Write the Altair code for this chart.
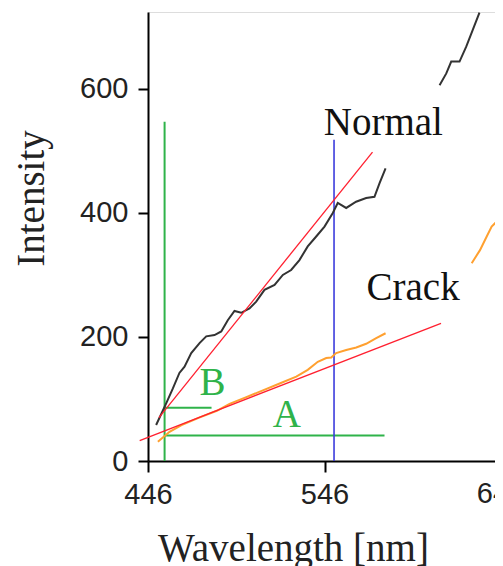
import altair as alt
import pandas as pd

# Normal spectrum (black), two visible pieces
normal1_x = [450.6, 456.3, 460.1, 463.8, 466.7, 470.5, 475.2, 479.0, 483.7, 487.5, 491.2, 495.0,
             498.8, 503.5, 507.3, 512.0, 517.7, 522.4, 527.1, 531.8, 536.5, 541.3, 546.0, 550.7,
             553.5, 558.3, 563.9, 569.6, 574.3, 577.2, 580.6]
normal1_y = [58, 93, 117, 142, 152, 174, 190, 201, 203, 209, 227, 242,
             239, 246, 257, 276, 284, 300, 308, 324, 346, 362, 378, 400,
             416, 408, 418, 424, 426, 448, 472]
normal2_x = [611.2, 615.0, 617.8, 622.5, 626.3, 630.0, 633.8]
normal2_y = [606, 625, 644, 644, 668, 695, 723]

# Crack spectrum (orange), two visible pieces
crack1_x = [451.6, 458.2, 465.0, 475.0, 485.0, 492.2, 501.7, 511.1, 520.6, 530.0, 536.5, 542.2,
            547.0, 549.8, 552.6, 558.3, 564.0, 569.6, 575.3, 580.6]
crack1_y = [31, 47, 58, 70, 81, 92, 103, 114, 125, 136, 147, 160,
            166, 167, 174, 179, 183, 189, 198, 206]
crack2_x = [629.4, 634.1, 637.9, 640.7, 643.5, 647.0]
crack2_y = [319, 340, 362, 378, 386, 392]

# Red fit lines (endpoints)
fit_normal_x = [452.2, 573.2]
fit_normal_y = [70, 498]
fit_crack_x = [441.3, 612.0]
fit_crack_y = [33, 222]

# Green guide lines
green_vx = 455.4
green_vy = [0, 547]
lineA_y = 41
lineA_x = [455.4, 580.0]
lineB_y = 86
lineB_x = [455.4, 482.0]

# Blue vertical marker
blue_x = 551.4
blue_y = [0, 518]

# Annotations
labels = ["Normal", "Crack", "A", "B"]
label_x = [545.6, 569.8, 516.7, 475.2]
label_y = [525, 260, 55, 106]
label_color = ["#111111", "#111111", "#2fb34a", "#2fb34a"]

# Tick values of the axes (the last x tick sits at the clipped right edge)
x_ticks = [446, 546]
x_edge_tick = [646]
y_ticks = [0, 200, 400, 600]

XDOM = [446, 642.6]
YDOM = [0, 724]

xs = alt.Scale(domain=XDOM, nice=False, zero=False)
ys = alt.Scale(domain=YDOM, nice=False)

x_axis = alt.Axis(values=x_ticks, tickSize=11, tickWidth=2, domainWidth=2,
                  domainColor="black", tickColor="black", grid=False,
                  labelFont="Liberation Sans", labelFontSize=29, labelColor="#222222",
                  labelPadding=8, labelFlush=False, labelOverlap=False,
                  title="Wavelength [nm]", titleFont="Liberation Serif", titleFontSize=39,
                  titleFontWeight="normal", titleColor="#222222",
                  titleX=145, titleY=99, titleBaseline="alphabetic", titleAlign="center")
y_axis = alt.Axis(values=y_ticks, tickSize=10, tickWidth=2, domainWidth=2,
                  domainColor="black", tickColor="black", grid=False,
                  labelFont="Liberation Sans", labelFontSize=29, labelColor="#222222",
                  labelPadding=10, labelFlush=False,
                  title="Intensity", titleFont="Liberation Serif", titleFontSize=39,
                  titleFontWeight="normal", titleColor="#222222",
                  titleX=-105, titleY=186, titleBaseline="alphabetic", titleAlign="center")


def seg_df(x, y, name):
    return pd.DataFrame({"x": x, "y": y, "seg": [name] * len(x)})


normal_df = pd.concat([seg_df(normal1_x, normal1_y, "n1"), seg_df(normal2_x, normal2_y, "n2")])
crack_df = pd.concat([seg_df(crack1_x, crack1_y, "c1"), seg_df(crack2_x, crack2_y, "c2")])
fit_df = pd.concat([seg_df(fit_normal_x, fit_normal_y, "fn"), seg_df(fit_crack_x, fit_crack_y, "fc")])

green_df = pd.concat([
    seg_df([green_vx, green_vx], green_vy, "gv"),
    seg_df(lineA_x, [lineA_y, lineA_y], "ga"),
    seg_df(lineB_x, [lineB_y, lineB_y], "gb"),
])
blue_df = seg_df([blue_x, blue_x], blue_y, "bv")
label_df = pd.DataFrame({"t": labels, "x": label_x, "y": label_y, "c": label_color})
edge_df = pd.DataFrame({"x": x_edge_tick, "y": [0] * len(x_edge_tick),
                        "t": [str(v) for v in x_edge_tick]})

base_enc = dict(
    x=alt.X("x:Q", scale=xs, axis=x_axis),
    y=alt.Y("y:Q", scale=ys, axis=y_axis),
    detail="seg:N",
)

green = alt.Chart(green_df).mark_line(color="#2fb34a", strokeWidth=2).encode(**base_enc)
blue = alt.Chart(blue_df).mark_line(color="#3c3cdc", strokeWidth=1.6).encode(**base_enc)
crack = alt.Chart(crack_df).mark_line(color="#ffa030", strokeWidth=2).encode(**base_enc)
normal = alt.Chart(normal_df).mark_line(color="#333333", strokeWidth=2).encode(**base_enc)
fit = alt.Chart(fit_df).mark_line(color="#ff2030", strokeWidth=1.3).encode(**base_enc)
text = alt.Chart(label_df).mark_text(font="Liberation Serif", fontSize=39, align="left",
                                     baseline="alphabetic").encode(
    x=alt.X("x:Q", scale=xs, axis=x_axis), y=alt.Y("y:Q", scale=ys, axis=y_axis),
    text="t:N", color=alt.Color("c:N", scale=None))
edge = alt.Chart(edge_df).mark_text(font="Liberation Sans", fontSize=29, color="#222222",
                                    align="center", baseline="top", dy=19).encode(
    x=alt.X("x:Q", scale=xs, axis=x_axis), y=alt.Y("y:Q", scale=ys, axis=y_axis),
    text="t:N")

chart = alt.layer(green, blue, crack, normal, fit, text, edge).properties(
    width=347, height=449,
    autosize=alt.AutoSizeParams(type="none"),
    padding={"left": 140, "top": 4, "right": 0, "bottom": 112},
).configure_view(stroke=None).configure(background="white")

chart.save("out.html", embed_options={"renderer": "svg", "actions": False})
